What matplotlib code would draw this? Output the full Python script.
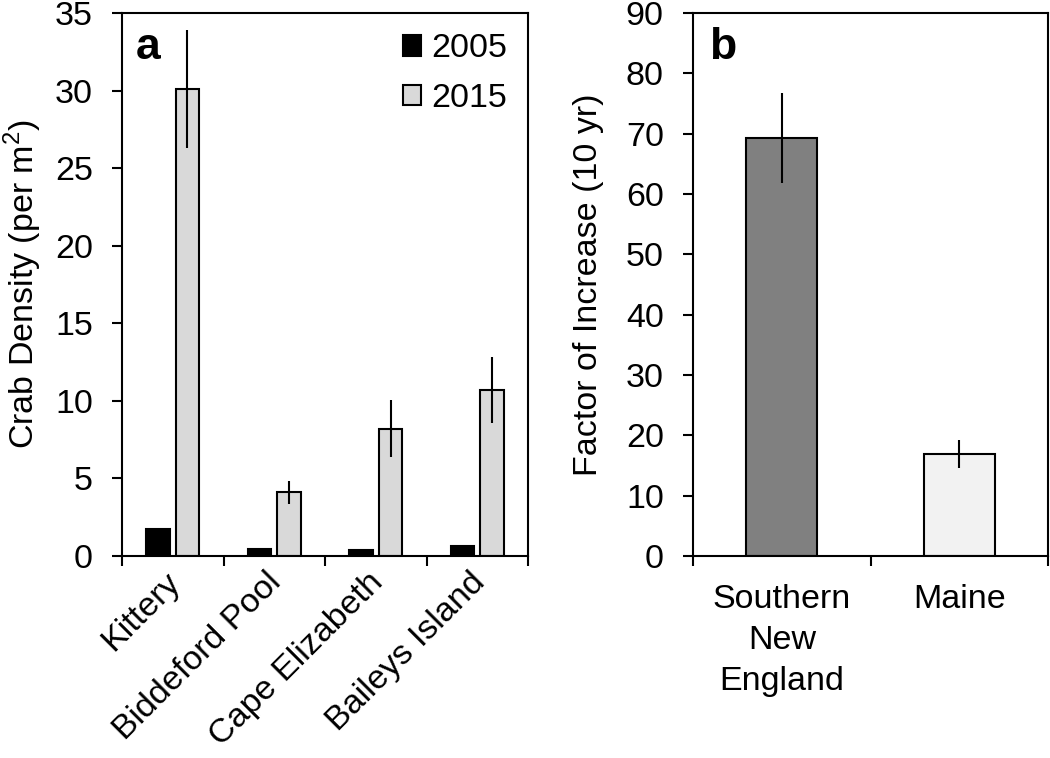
import matplotlib
matplotlib.use("Agg")
import matplotlib.pyplot as plt
import matplotlib.transforms as mtransforms
from matplotlib.patches import Patch

plt.rcParams['font.family'] = ['Liberation Sans', 'DejaVu Sans']
plt.rcParams['mathtext.fontset'] = 'custom'
plt.rcParams['mathtext.rm'] = 'Liberation Sans'

# panel a: crab density by site
sitios = ['Kittery', 'Biddeford Pool', 'Cape Elizabeth', 'Baileys Island']
dens_2005 = [1.75, 0.43, 0.38, 0.62]
dens_2015 = [30.1, 4.1, 8.2, 10.7]
err_2015 = [3.8, 0.75, 1.85, 2.1]

# panel b: factor of increase
regiones = ['Southern\nNew\nEngland', 'Maine']
factor = [69.3, 16.9]
err_factor = [7.4, 2.35]
colores_b = ['#808080', '#f2f2f2']

fig = plt.figure(figsize=(10.5, 7.58), dpi=100)
ax1 = fig.add_axes([0.1162, 0.2665, 0.3867, 0.7164])
ax2 = fig.add_axes([0.66, 0.2665, 0.3381, 0.7164])

fs = 24.5
lw = 1.5

x = list(range(len(sitios)))
ancho = 0.23
ax1.bar([i - 0.145 for i in x], dens_2005, ancho, color='black',
        edgecolor='black', linewidth=lw, label='2005')
ax1.bar([i + 0.145 for i in x], dens_2015, ancho, color='#d9d9d9',
        edgecolor='black', linewidth=lw, label='2015')
ax1.errorbar([i + 0.145 for i in x], dens_2015, yerr=err_2015, fmt='none',
             ecolor='black', elinewidth=lw, capsize=0)
ax1.set_xlim(-0.5, 3.5)
ax1.set_ylim(0, 35)
ax1.set_yticks(range(0, 36, 5))
ax1.set_ylabel('Crab Density (per m$^\\mathregular{2}$)', fontsize=fs, labelpad=8)
ax1.set_xticks(x)
ax1.set_xticklabels(sitios, rotation=45, ha='right', rotation_mode='anchor')
ax1.set_xticks([-0.5, 0.5, 1.5, 2.5, 3.5], minor=True)
ax1.text(0.035, 0.975, 'a', transform=ax1.transAxes, fontsize=32,
         fontweight='bold', va='top', ha='left')
handles = [Patch(facecolor='black', edgecolor='black', linewidth=lw),
           Patch(facecolor='#d9d9d9', edgecolor='black', linewidth=lw)]
ax1.legend(handles, ['2005', '2015'], loc='upper right', frameon=False,
           fontsize=fs, handlelength=0.55, handleheight=0.55,
           handletextpad=0.3, labelspacing=0.55, borderaxespad=0.3,
           borderpad=0.3)

ax2.bar(range(len(regiones)), factor, 0.4, color=colores_b,
        edgecolor='black', linewidth=lw)
ax2.errorbar(range(len(regiones)), factor, yerr=err_factor, fmt='none',
             ecolor='black', elinewidth=lw, capsize=0)
ax2.set_xlim(-0.5, 1.5)
ax2.set_ylim(0, 90)
ax2.set_yticks(range(0, 91, 10))
ax2.set_ylabel('Factor of Increase (10 yr)', fontsize=fs, labelpad=16)
ax2.set_xticks(range(len(regiones)))
ax2.set_xticklabels(regiones, linespacing=1.42)
ax2.set_xticks([-0.5, 0.5, 1.5], minor=True)
ax2.text(0.045, 0.975, 'b', transform=ax2.transAxes, fontsize=32,
         fontweight='bold', va='top', ha='left')

for ax in (ax1, ax2):
    for s in ax.spines.values():
        s.set_linewidth(lw)
    ax.tick_params(axis='y', direction='out', length=7, width=lw,
                   labelsize=fs, pad=14)
    ax.tick_params(axis='x', which='minor', direction='out', length=7, width=lw)
ax1.tick_params(axis='x', which='major', length=0, labelsize=fs, pad=8)
ax2.tick_params(axis='x', which='major', length=0, labelsize=fs, pad=20)

# nudge rotated labels a little to the left (after tick_params)
desplaz = mtransforms.ScaledTranslation(-6 / 72, 0, fig.dpi_scale_trans)
for etiqueta in ax1.get_xticklabels():
    etiqueta.set_transform(etiqueta.get_transform() + desplaz)

fig.savefig('out.png', dpi=100)
